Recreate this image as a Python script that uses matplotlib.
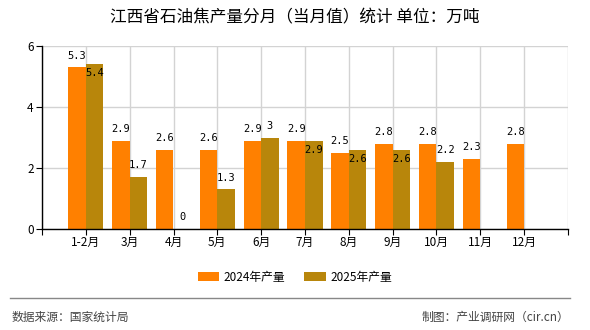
import numpy as np
import matplotlib
matplotlib.use("Agg")
import matplotlib.pyplot as plt
from matplotlib.lines import Line2D

plt.rcParams['font.family'] = ['Noto Sans CJK SC', 'DejaVu Sans']

# data
months = ['1-2月', '3月', '4月', '5月', '6月', '7月', '8月', '9月', '10月', '11月', '12月']
prod_2024 = [5.3, 2.9, 2.6, 2.6, 2.9, 2.9, 2.5, 2.8, 2.8, 2.3, 2.8]
prod_2025 = [5.4, 1.7, 0, 1.3, 3, 2.9, 2.6, 2.6, 2.2, np.nan, np.nan]

c24 = '#FF8000'
c25 = '#B8860B'

fig = plt.figure(figsize=(5.9, 3.3), dpi=100)
ax = fig.add_axes([42 / 590, 1 - 229 / 330, 526 / 590, 183 / 330])

x = np.arange(len(months))
w = 0.4
ax.bar(x - w / 2, prod_2024, w, color=c24, label='2024年产量', zorder=2)
ax.bar(x + w / 2, prod_2025, w, color=c25, label='2025年产量', zorder=2)

def fmt(v):
    return ('%g' % v)

lab = dict(fontsize=7.5, family='DejaVu Sans Mono', ha='center', va='center', zorder=3)
for i in range(len(months)):
    a = prod_2024[i]
    ax.annotate(fmt(a), (x[i] - w / 2, a), xytext=(0, 8.5), textcoords='offset points', **lab)
    b = prod_2025[i]
    if np.isnan(b):
        continue
    s = fmt(b)
    # push the 2025 label inside the bar if it would clash with the 2024 label
    if abs(b - a) < 0.35 and len(s) > 1:
        dy = -6.5
    else:
        dy = 8.5
    ax.annotate(s, (x[i] + w / 2, b), xytext=(0, dy), textcoords='offset points', **lab)

ax.set_xlim(-1, 11)
ax.set_ylim(0, 6)
ax.set_xticks(np.arange(-1, 12))
ax.set_xticklabels([''] + months + [''], fontsize=8.5)
ax.set_yticks([0, 2, 4, 6])
ax.tick_params(axis='y', labelsize=8.5, length=4, pad=2)
ax.tick_params(axis='x', length=4, pad=1)
ax.grid(True, color='#d3d3d3', lw=1, zorder=0)
ax.spines['top'].set_visible(False)
ax.spines['right'].set_visible(False)
ax.spines['left'].set_linewidth(1)
ax.spines['bottom'].set_linewidth(1)

fig.text(0.5, 1 - 18 / 330, '江西省石油焦产量分月（当月值）统计 单位：万吨',
         ha='center', va='center', fontsize=12, fontweight='medium')

fig.legend(loc='center', bbox_to_anchor=(0.5, 1 - 277 / 330), ncol=2, frameon=False,
           fontsize=8.5, handlelength=1.8, handleheight=0.7, columnspacing=1.6,
           handletextpad=0.4)

fig.add_artist(Line2D([10 / 590, 570 / 590], [1 - 298 / 330] * 2, color='#888888', lw=1))
fig.text(12 / 590, 1 - 317 / 330, '数据来源：国家统计局', ha='left', va='center',
         fontsize=8.5, color='#444444')
fig.text(569 / 590, 1 - 317 / 330, '制图：产业调研网（cir.cn）', ha='right', va='center',
         fontsize=8.5, color='#444444')

fig.savefig('out.png', dpi=100)
